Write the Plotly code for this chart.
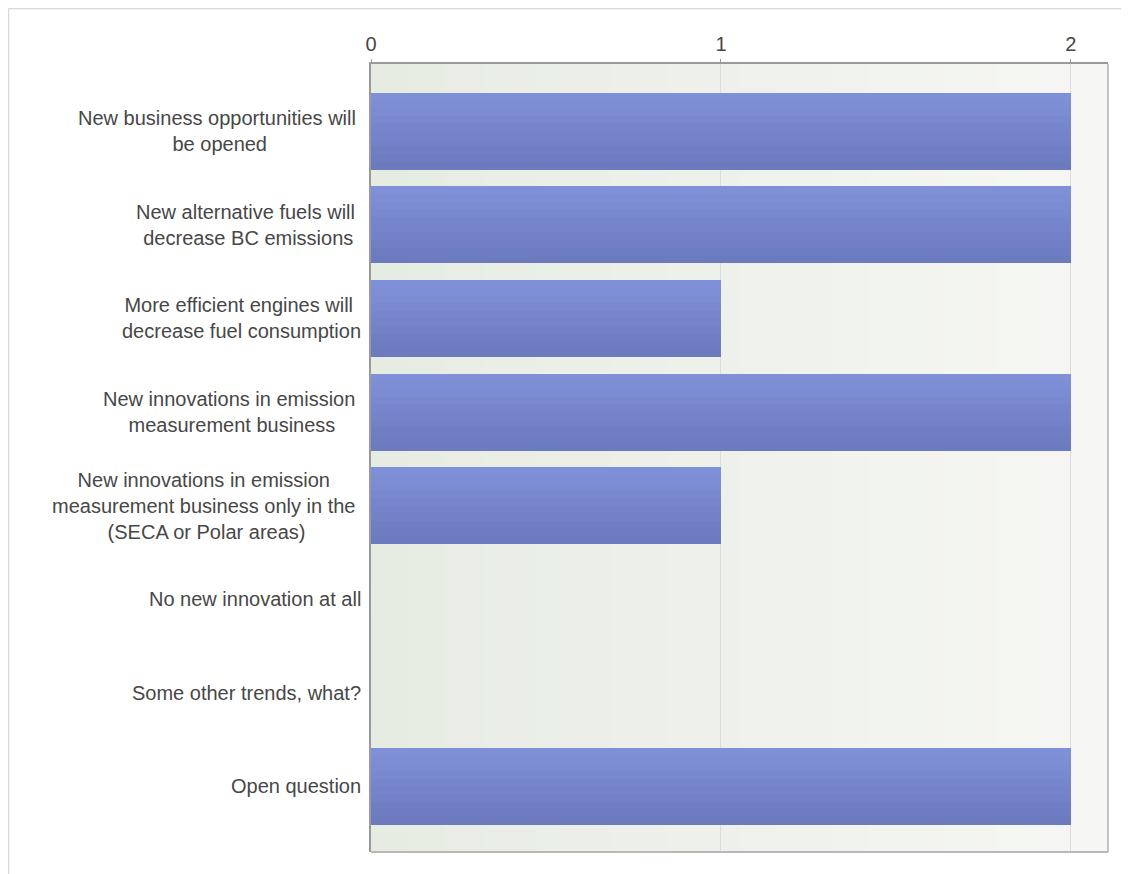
"""Horizontal bar chart: expected trends / innovations (survey answers)."""
import plotly.graph_objects as go

CATEGORIES = [
    "New business opportunities will <br>be opened",
    "New alternative fuels will <br>decrease BC emissions",
    "More efficient engines will <br>decrease fuel consumption",
    "New innovations in emission <br>measurement business",
    "New innovations in emission <br>measurement business only in the <br>(SECA or Polar areas)",
    "No new innovation at all",
    "Some other trends, what?",
    "Open question",
]
VALUES = [2, 2, 1, 2, 1, 0, 0, 2]
TICKS = [0, 1, 2]

FONT = "Liberation Sans, Arial, sans-serif"
TXT = "#474747"

# the page body has an 8px margin, so the figure is a bit smaller than the window
W, H = 1121, 866
L, R, T, B = 363, 21, 56, 22
PW, PH = W - L - R, H - T - B


def px_x(p):
    return (p - L) / PW


def px_y(p):
    return (H - B - p) / PH


def mix(c1, c2, t):
    return "rgb(%d,%d,%d)" % tuple(round(a + (b - a) * t) for a, b in zip(c1, c2))


fig = go.Figure()

# bars drawn as thin stripes so they get a top-to-bottom gradient
N = 10
BAR_W = 0.82
TOP_C, BOT_C = (128, 144, 216), (108, 122, 190)
for i in range(N):
    fig.add_trace(go.Bar(
        y=CATEGORIES,
        x=VALUES,
        orientation="h",
        width=BAR_W / N + 0.002,
        offset=-BAR_W / 2 + i * BAR_W / N,
        marker={"color": mix(TOP_C, BOT_C, i / (N - 1)), "line": {"width": 0}},
        showlegend=False,
        hoverinfo="x+y",
    ))

# plot background: soft horizontal gradient
shapes = []
S = 40
X_MAX = 2.106
for i in range(S):
    shapes.append(dict(
        type="rect", xref="x", yref="paper", layer="below",
        x0=X_MAX * i / S, x1=X_MAX * (i + 1) / S + 0.003, y0=0, y1=1,
        fillcolor=mix((231, 236, 227), (246, 247, 244), i / (S - 1)),
        line={"width": 0},
    ))
# right / bottom frame of the plot area
shapes += [
    dict(type="line", xref="paper", yref="paper", x0=1, x1=1, y0=0, y1=1,
         line={"color": "#c4c4c4", "width": 2}),
    dict(type="line", xref="paper", yref="paper", x0=0, x1=1, y0=0, y1=0,
         line={"color": "#b8b8b8", "width": 2}),
    # outer page frame (top and left)
    dict(type="line", xref="paper", yref="paper", x0=px_x(0.5), x1=px_x(W), y0=px_y(0.5), y1=px_y(0.5),
         line={"color": "#d8d8d8", "width": 1.5}),
    dict(type="line", xref="paper", yref="paper", x0=px_x(0.5), x1=px_x(0.5), y0=px_y(0.5), y1=px_y(H),
         line={"color": "#d8d8d8", "width": 1.5}),
]

# category labels: centred lines, right-aligned block
annotations = [
    dict(
        text=c, x=0, y=c, xref="paper", yref="y",
        xanchor="right", yanchor="middle", align="center", xshift=-8,
        showarrow=False, font={"family": FONT, "size": 20, "color": TXT},
    )
    for c in CATEGORIES
]

fig.update_layout(
    width=W, height=H,
    margin={"l": L, "r": R, "t": T, "b": B, "pad": 0},
    paper_bgcolor="white",
    plot_bgcolor="#eef1ec",
    barmode="overlay",
    bargap=0,
    font={"family": FONT, "size": 20, "color": TXT},
    shapes=shapes,
    annotations=annotations,
)
fig.update_xaxes(
    side="top", range=[0, X_MAX], tickvals=TICKS, ticktext=[str(t) for t in TICKS],
    showgrid=True, gridcolor="#dcdcdc", gridwidth=1,
    showline=True, linecolor="#9a9a9a", linewidth=2,
    ticks="outside", ticklen=3, tickcolor="#9a9a9a",
    tickfont={"family": FONT, "size": 20, "color": TXT},
    zeroline=False, fixedrange=True,
)
fig.update_yaxes(
    type="category", categoryorder="array", categoryarray=CATEGORIES,
    range=[7.70, -0.716], showticklabels=False, showgrid=False,
    showline=True, linecolor="#9a9a9a", linewidth=2, ticks="",
    zeroline=False, fixedrange=True,
)

fig.write_html("out.html")
